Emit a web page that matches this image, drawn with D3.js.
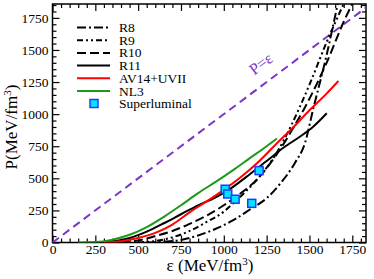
<!DOCTYPE html>
<html>
<head>
<meta charset="utf-8">
<script src="https://cdn.jsdelivr.net/npm/d3@7"></script>
<style>
  body { margin: 0; background: #fff; }
</style>
</head>
<body>
<div class="chart"></div>
<script>
// EOS curves, [energy density, pressure] in MeV/fm^3
var r8 = [[550,0],[650,6],[750,20],[850,55],[950,105],[1050,170],[1150,255],[1250,345],[1330,460],[1415,620],[1475,780],[1520,1030],[1600,1460],[1665,1860]];
var r9 = [[500,0],[600,12],[700,40],[800,90],[900,160],[1000,240],[1066,320],[1130,400],[1200,500],[1300,680],[1400,930],[1500,1230],[1600,1560],[1700,1860]];
var r10 = [[400,0],[500,15],[600,50],[700,90],[800,145],[900,210],[1000,290],[1100,385],[1200,500],[1300,670],[1400,880],[1500,1120],[1600,1400],[1700,1720],[1750,1860]];
var r11 = [[250,0],[350,8],[450,35],[550,85],[650,150],[750,220],[850,290],[950,350],[1050,430],[1150,530],[1250,635],[1350,740],[1450,830],[1520,900],[1601,1007]];
var av14 = [[300,0],[400,10],[500,35],[600,75],[700,140],[800,235],[900,320],[1000,410],[1100,510],[1200,625],[1300,760],[1400,890],[1500,1030],[1600,1160],[1669,1258]];
var nl3 = [[150,0],[250,3],[350,22],[450,60],[550,120],[650,200],[750,290],[850,385],[950,470],[1050,560],[1150,655],[1250,750],[1310,810]];
var causal = [[0,0],[1900,1900]];
var superluminal = [[1008,415],[1023,378],[1066,337],[1163,305],[1206,560]];

var xTicks = [0,250,500,750,1000,1250,1500,1750];
var yTicks = [0,250,500,750,1000,1250,1500,1750];

var serif = "'Liberation Serif', 'Times New Roman', Times, serif";

var svgWidth = 374;
var svgHeight = 279;

var svg = d3.select(".chart")
  .append("svg")
  .attr("width", svgWidth)
  .attr("height", svgHeight)
  .style("font-family", serif);

var xScale = d3.scaleLinear().domain([0, 1830]).range([52.5, 366]);
var yScale = d3.scaleLinear().domain([0, 1858]).range([242.5, 4]);

svg.append("clipPath").attr("id", "clip")
  .append("rect")
  .attr("x", 52.5).attr("y", 4)
  .attr("width", 366 - 52.5).attr("height", 242.5 - 4);

var minorX = d3.range(0, 1830, 50).filter(d => d % 250 != 0);
var minorY = d3.range(0, 1858, 50).filter(d => d % 250 != 0);

// axes: major ticks with labels, minor ticks, mirrored on top/right
function drawAxis(axisFn, scale, ticks, minor, transform, labels, pad) {
  var g = svg.append("g").attr("transform", transform);
  g.call(axisFn(scale).tickValues(minor).tickSize(-4).tickFormat(""));
  var g2 = svg.append("g").attr("transform", transform);
  g2.call(axisFn(scale).tickValues(ticks).tickSize(-7).tickPadding(pad)
    .tickFormat(labels ? d3.format("d") : ""));
  g.select(".domain").remove();
  g2.select(".domain").remove();
  g.attr("font-family", null);
  g2.attr("font-family", null);
  g2.selectAll("text")
    .style("font-family", serif)
    .style("font-size", "13.5px")
    .attr("fill", "#000");
  svg.selectAll("line").attr("stroke-width", 1.2);
}
drawAxis(d3.axisBottom, xScale, xTicks, minorX, "translate(0,242.5)", true, 2);
drawAxis(d3.axisTop, xScale, xTicks, minorX, "translate(0,4)", false, 2);
drawAxis(d3.axisLeft, yScale, yTicks, minorY, "translate(52.5,0)", true, 4);
drawAxis(d3.axisRight, yScale, yTicks, minorY, "translate(366,0)", false, 4);

svg.append("rect")
  .attr("x", 52.5).attr("y", 4)
  .attr("width", 366 - 52.5).attr("height", 242.5 - 4)
  .attr("fill", "none")
  .attr("stroke", "#000")
  .attr("stroke-width", 1.5);

var line = d3.line()
  .x(d => xScale(d[0]))
  .y(d => yScale(d[1]))
  .curve(d3.curveMonotoneX);

var series = [
  {name: "R8", data: r8, color: "#000", dash: "9,3,2,3"},
  {name: "R9", data: r9, color: "#000", dash: "6,3,2,3,2,3"},
  {name: "R10", data: r10, color: "#000", dash: "9,4"},
  {name: "R11", data: r11, color: "#000", dash: null},
  {name: "AV14+UVII", data: av14, color: "#ff0000", dash: null},
  {name: "NL3", data: nl3, color: "#1a9a1a", dash: null}
];

var plot = svg.append("g").attr("clip-path", "url(#clip)");

plot.append("path")
  .attr("d", line.curve(d3.curveLinear)(causal))
  .attr("fill", "none")
  .attr("stroke", "#7b35c8")
  .attr("stroke-width", 2)
  .attr("stroke-dasharray", "8,5");
line.curve(d3.curveMonotoneX);

series.forEach(function(s) {
  plot.append("path")
    .attr("d", line(s.data))
    .attr("fill", "none")
    .attr("stroke", s.color)
    .attr("stroke-width", 2)
    .attr("stroke-dasharray", s.dash);
});

plot.selectAll(".sq")
  .data(superluminal)
  .enter()
  .append("rect")
  .attr("x", d => xScale(d[0]) - 4)
  .attr("y", d => yScale(d[1]) - 4)
  .attr("width", 8)
  .attr("height", 8)
  .attr("fill", "#00e5ff")
  .attr("stroke", "#1e3cff")
  .attr("stroke-width", 1.5);

// P=e label
svg.append("text")
  .attr("transform", "translate(264,68) rotate(-36.8)")
  .attr("text-anchor", "middle")
  .style("font-size", "16px")
  .attr("fill", "#7b35c8")
  .text("P=ε");

// legend
var legend = svg.append("g");
series.forEach(function(s, i) {
  var y = 27.5 + i * 12.7;
  legend.append("line")
    .attr("x1", 77).attr("x2", 110)
    .attr("y1", y).attr("y2", y)
    .attr("stroke", s.color)
    .attr("stroke-width", 2)
    .attr("stroke-dasharray", s.dash);
  legend.append("text")
    .attr("x", 119).attr("y", y + 4.5)
    .style("font-size", "13.5px")
    .text(s.name);
});
legend.append("rect")
  .attr("x", 90).attr("y", 99.5)
  .attr("width", 8).attr("height", 8)
  .attr("fill", "#00e5ff")
  .attr("stroke", "#1e3cff")
  .attr("stroke-width", 1.5);
legend.append("text")
  .attr("x", 119).attr("y", 108)
  .style("font-size", "13.5px")
  .text("Superluminal");

// axis titles
var xt = svg.append("text")
  .attr("x", 210).attr("y", 271)
  .attr("text-anchor", "middle")
  .style("font-size", "17px");
xt.append("tspan").text("ε (MeV/fm");
xt.append("tspan").attr("dy", -6).style("font-size", "11px").text("3");
xt.append("tspan").attr("dy", 6).text(")");

var yt = svg.append("text")
  .attr("transform", "translate(17,127) rotate(-90)")
  .attr("text-anchor", "middle")
  .style("font-size", "17px");
yt.append("tspan").text("P(MeV/fm");
yt.append("tspan").attr("dy", -6).style("font-size", "11px").text("3");
yt.append("tspan").attr("dy", 6).text(")");
</script>
</body>
</html>
